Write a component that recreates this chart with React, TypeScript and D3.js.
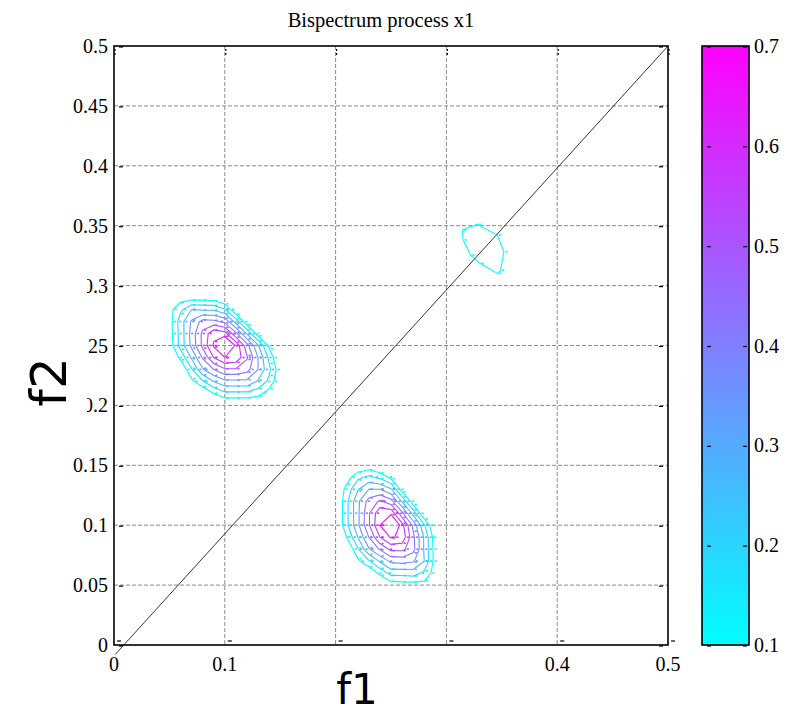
import React from "react";
import * as d3 from "d3";

const W = 787;
const H = 716;

const title = "Bispectrum process x1";
const xLabel = "f1";
const yLabel = "f2";

const xTicks = [0, 0.1, 0.2, 0.3, 0.4, 0.5];
const xTickLabels = ["0", "0.1", "", "", "0.4", "0.5"];
const yTicks = [0, 0.05, 0.1, 0.15, 0.2, 0.25, 0.3, 0.35, 0.4, 0.45, 0.5];
const yTickLabels = ["0", "0.05", "0.1", "0.15", "0.2", "0.25", "0.3", "0.35", "0.4", "0.45", "0.5"];
const cbarTicks = [0.1, 0.2, 0.3, 0.4, 0.5, 0.6, 0.7];
const cbarTickLabels = ["0.1", "0.2", "0.3", "0.4", "0.5", "0.6", "0.7"];

const contourLevels = [0.1, 0.18, 0.26, 0.34, 0.42, 0.5, 0.58, 0.66];

// bispectrum magnitude samples, step 0.01; rows go up in f2, columns go right in f1
const gridStep = 0.01;
const leftOrigin = [0.04, 0.19];
const leftGrid = [
  [0, 0, 0, 0, 0, 0, 0, 0, 0, 0, 0, 0, 0],
  [0, 0, 0, 0, 0, 0, 0, 0, 0, 0, 0, 0, 0],
  [0, 0, 0, 0, 0.01, 0.1, 0.16, 0.16, 0.16, 0.13, 0.06, 0, 0],
  [0, 0, 0, 0.08, 0.17, 0.26, 0.32, 0.32, 0.32, 0.25, 0.16, 0.02, 0],
  [0, 0, 0.02, 0.17, 0.33, 0.42, 0.49, 0.49, 0.45, 0.34, 0.2, 0.04, 0],
  [0, 0, 0.12, 0.27, 0.43, 0.58, 0.66, 0.64, 0.51, 0.34, 0.16, 0, 0],
  [0, 0.05, 0.21, 0.36, 0.52, 0.67, 0.83, 0.64, 0.45, 0.27, 0.08, 0, 0],
  [0, 0.06, 0.21, 0.37, 0.52, 0.64, 0.61, 0.44, 0.25, 0.06, 0, 0, 0],
  [0, 0.06, 0.22, 0.35, 0.45, 0.44, 0.4, 0.23, 0.05, 0, 0, 0, 0],
  [0, 0.07, 0.16, 0.26, 0.25, 0.25, 0.19, 0.02, 0, 0, 0, 0, 0],
  [0, 0, 0.06, 0.06, 0.06, 0.05, 0, 0, 0, 0, 0, 0, 0],
  [0, 0, 0, 0, 0, 0, 0, 0, 0, 0, 0, 0, 0],
  [0, 0, 0, 0, 0, 0, 0, 0, 0, 0, 0, 0, 0],
];

const rightOrigin = [0.19, 0.04];
const rightGrid = [
  [0, 0, 0, 0, 0, 0, 0, 0, 0, 0, 0, 0, 0],
  [0, 0, 0, 0, 0, 0, 0.05, 0.06, 0.06, 0.07, 0, 0, 0],
  [0, 0, 0, 0, 0.02, 0.12, 0.21, 0.21, 0.22, 0.16, 0.06, 0, 0],
  [0, 0, 0, 0.08, 0.17, 0.27, 0.36, 0.37, 0.35, 0.26, 0.06, 0, 0],
  [0, 0, 0.01, 0.17, 0.33, 0.43, 0.52, 0.52, 0.45, 0.25, 0.06, 0, 0],
  [0, 0, 0.1, 0.26, 0.42, 0.58, 0.67, 0.64, 0.44, 0.25, 0.05, 0, 0],
  [0, 0, 0.16, 0.32, 0.49, 0.66, 0.83, 0.61, 0.4, 0.19, 0, 0, 0],
  [0, 0, 0.16, 0.32, 0.49, 0.64, 0.64, 0.44, 0.23, 0.02, 0, 0, 0],
  [0, 0, 0.16, 0.32, 0.45, 0.51, 0.45, 0.25, 0.05, 0, 0, 0, 0],
  [0, 0, 0.13, 0.25, 0.34, 0.34, 0.27, 0.06, 0, 0, 0, 0, 0],
  [0, 0, 0.06, 0.16, 0.2, 0.16, 0.08, 0, 0, 0, 0, 0, 0],
  [0, 0, 0, 0.02, 0.04, 0, 0, 0, 0, 0, 0, 0, 0],
  [0, 0, 0, 0, 0, 0, 0, 0, 0, 0, 0, 0, 0],
];

// small level-0.1 contour on the diagonal near (1/3, 1/3)
const smallRing = [
  [0.3143, 0.3464],
  [0.3278, 0.3511],
  [0.3459, 0.3422],
  [0.3519, 0.3283],
  [0.3489, 0.3130],
  [0.3459, 0.3102],
  [0.3303, 0.3186],
  [0.3219, 0.3255],
  [0.3151, 0.3381],
  [0.3143, 0.3464],
];
const smallRingLevel = 0.1;

const diagLine = [
  [0.001, -0.008],
  [0.5, 0.5],
];

const X0 = 114, X1 = 668, YT = 46, YB = 645;
const CB0 = 702, CB1 = 749;

const x = d3.scaleLinear().domain([0, 0.5]).range([X0, X1]);
const y = d3.scaleLinear().domain([0, 0.5]).range([YB, YT]);
const cy = d3.scaleLinear().domain([0.1, 0.7]).range([YB, YT]);
const color = d3.scaleLinear<string>().domain([0.1, 0.7]).range(["#00ffff", "#ff00ff"]).clamp(true);

const serif = "'Liberation Serif', 'Times New Roman', serif";
const hand = "'DejaVu Sans', sans-serif";

function buildContours(grid: number[][], origin: number[]) {
  const ny = grid.length;
  const nx = grid[0].length;
  const gen = d3.contours().size([nx, ny]).thresholds(contourLevels);
  const res = gen(grid.flat());
  const out: { level: number; rings: [number, number][][] }[] = [];
  res.forEach((mp) => {
    const rings: [number, number][][] = [];
    mp.coordinates.forEach((poly) => {
      poly.forEach((ring) => {
        rings.push(
          ring.map((p) => [
            x(origin[0] + (p[0] - 0.5) * gridStep),
            y(origin[1] + (p[1] - 0.5) * gridStep),
          ]) as [number, number][]
        );
      });
    });
    out.push({ level: mp.value, rings });
  });
  return out;
}

export default function App() {
  const line = d3.line<[number, number]>().x((d) => d[0]).y((d) => d[1]);
  const blobs = [...buildContours(leftGrid, leftOrigin), ...buildContours(rightGrid, rightOrigin)];
  const small: [number, number][] = smallRing.map((p) => [x(p[0]), y(p[1])]);

  return (
    <svg
      width={W}
      height={H}
      style={{ position: "absolute", left: 0, top: 0, background: "#fff" }}
      xmlns="http://www.w3.org/2000/svg"
    >
      <defs>
        <linearGradient id="cbar" x1="0" y1="1" x2="0" y2="0">
          <stop offset="0%" stopColor={color(0.1)} />
          <stop offset="100%" stopColor={color(0.7)} />
        </linearGradient>
      </defs>
      <rect x={0} y={0} width={W} height={H} fill="#fff" />

      {/* title */}
      <text x={381} y={27} fontFamily={serif} fontSize={20.5} textAnchor="middle" fill="#000">
        {title}
      </text>

      {/* grid */}
      {xTicks.slice(1, -1).map((t) => (
        <line key={"gx" + t} x1={x(t)} x2={x(t)} y1={YT} y2={YB} stroke="#8a8a8a" strokeWidth={1} strokeDasharray="4,2" />
      ))}
      {yTicks.slice(1, -1).map((t) => (
        <line key={"gy" + t} x1={X0} x2={X1} y1={y(t)} y2={y(t)} stroke="#8a8a8a" strokeWidth={1} strokeDasharray="4,2" />
      ))}

      {/* contours */}
      {blobs.map((b, bi) =>
        b.rings.map((r, ri) => (
          <g key={`c${bi}-${ri}`}>
            <path d={line(r) || ""} fill="none" stroke={color(b.level)} strokeWidth={1.1} />
            {r.map((p, pi) => (
              <rect key={pi} x={p[0] + 1.5} y={p[1] - 0.8} width={2.2} height={1.6} fill={color(b.level)} />
            ))}
          </g>
        ))
      )}
      <path d={line(small) || ""} fill="none" stroke={color(smallRingLevel)} strokeWidth={1.1} />
      {small.slice(0, -1).map((p, i) => (
        <rect key={"sd" + i} x={p[0] + 1.5} y={p[1] - 0.8} width={2.2} height={1.6} fill={color(smallRingLevel)} />
      ))}

      {/* diagonal */}
      <line
        x1={x(diagLine[0][0])}
        y1={y(diagLine[0][1])}
        x2={x(diagLine[1][0])}
        y2={y(diagLine[1][1])}
        stroke="#000"
        strokeWidth={0.8}
      />

      {/* axes box */}
      <rect x={X0} y={YT} width={X1 - X0} height={YB - YT} fill="none" stroke="#000" strokeWidth={1.6} />

      {/* small tick marks */}
      {yTicks.map((t) => (
        <g key={"ty" + t}>
          <line x1={X0 + 5} x2={X0 + 9} y1={y(t) + 1} y2={y(t) + 1} stroke="#000" strokeWidth={1.2} />
          <line x1={X1 - 9} x2={X1 - 5} y1={y(t) + 1} y2={y(t) + 1} stroke="#000" strokeWidth={1.2} />
        </g>
      ))}
      {xTicks.map((t) => (
        <g key={"tx" + t}>
          <line x1={x(t) + 3} x2={x(t) + 7} y1={YB - 4} y2={YB - 4} stroke="#000" strokeWidth={1.2} />
          <line x1={x(t) + 1} x2={x(t) + 1} y1={YT + 3} y2={YT + 10} stroke="#000" strokeWidth={1.2} strokeDasharray="2,2" />
        </g>
      ))}

      {/* tick labels */}
      {yTicks.map((t, i) => (
        <text key={"ly" + t} x={108} y={y(t)} dy="0.35em" fontFamily={serif} fontSize={20} textAnchor="end" fill="#000">
          {yTickLabels[i]}
        </text>
      ))}
      {xTicks.map((t, i) =>
        xTickLabels[i] ? (
          <text key={"lx" + t} x={x(t)} y={671} fontFamily={serif} fontSize={20} textAnchor="middle" fill="#000">
            {xTickLabels[i]}
          </text>
        ) : null
      )}

      {/* axis labels (with their opaque boxes) */}
      <rect x={0} y={268} width={87} height={154} fill="#fff" />
      <text
        transform={`translate(66,382) rotate(-90)`}
        fontFamily={hand}
        fontSize={50}
        textAnchor="middle"
        fill="#000"
      >
        {yLabel}
      </text>
      <text x={357} y={704} fontFamily={hand} fontSize={42} textAnchor="middle" fill="#000">
        {xLabel}
      </text>

      {/* colorbar */}
      <rect x={CB0} y={YT} width={CB1 - CB0} height={YB - YT} fill="url(#cbar)" />
      <line x1={CB1 + 1.5} x2={CB1 + 1.5} y1={YT} y2={YB} stroke="url(#cbar)" strokeWidth={1.5} />
      <rect x={CB0} y={YT} width={CB1 - CB0} height={YB - YT} fill="none" stroke="#000" strokeWidth={1.6} />
      {cbarTicks.map((t, i) => (
        <g key={"cb" + t}>
          <line x1={CB0 + 5} x2={CB0 + 9} y1={cy(t) + 1} y2={cy(t) + 1} stroke="#000" strokeWidth={1.2} />
          <line x1={CB1 - 6} x2={CB1 - 2} y1={cy(t) + 1} y2={cy(t) + 1} stroke="#000" strokeWidth={1.2} />
          <text x={754} y={cy(t)} dy="0.35em" fontFamily={serif} fontSize={20} fill="#000">
            {cbarTickLabels[i]}
          </text>
        </g>
      ))}
    </svg>
  );
}
